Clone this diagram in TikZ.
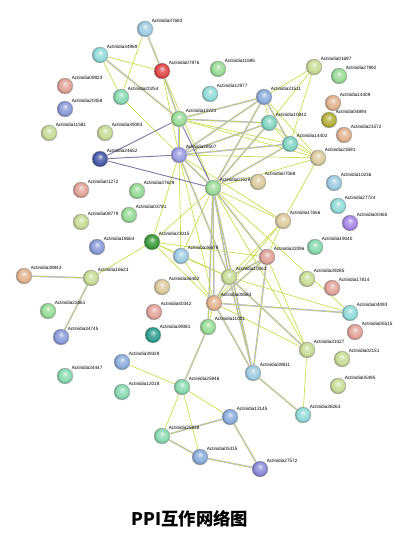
\documentclass[tikz,border=0pt]{standalone}
\usepackage{fontspec}
\setmainfont{Liberation Sans}
\newfontfamily\cjk{Noto Sans CJK SC}
\usepackage{tikz}
\usetikzlibrary{backgrounds}

% node colours
\definecolor{cLblue}{HTML}{A0CCE2}
\definecolor{cCyan}{HTML}{92DCD8}
\definecolor{cRed}{HTML}{E04848}
\definecolor{cSalmon}{HTML}{E2A49A}
\definecolor{cMint}{HTML}{8ADAB2}
\definecolor{cPeri}{HTML}{8C9CDA}
\definecolor{cGreen}{HTML}{9ADC98}
\definecolor{cYgreen}{HTML}{CADC98}
\definecolor{cBlue}{HTML}{8CAEDC}
\definecolor{cPeach}{HTML}{E2B490}
\definecolor{cTeal}{HTML}{82D6C2}
\definecolor{cOlive}{HTML}{B4B040}
\definecolor{cLav}{HTML}{9C9CE4}
\definecolor{cNavy}{HTML}{4A5AA8}
\definecolor{cTan}{HTML}{DCCCA0}
\definecolor{cPurple}{HTML}{A888E8}
\definecolor{cDgreen}{HTML}{3C9C3C}
\definecolor{cDteal}{HTML}{30A090}
\definecolor{cIndigo}{HTML}{8C8CD8}
% edge colours
\definecolor{eYel}{HTML}{C8DC46}
\definecolor{eLav}{HTML}{B4B4F0}
\definecolor{eDark}{HTML}{7C7CA8}

% glossy ball for the proteins
\colorlet{protcol}{white}
\pgfdeclareradialshading[protcol]{protball}{\pgfpoint{0bp}{9bp}}{%
  color(0bp)=(protcol!25!white); color(9bp)=(protcol!80!white);
  color(19bp)=(protcol); color(25bp)=(protcol!70!black); color(30bp)=(protcol!55!black)}

\tikzset{
  prot/.style={circle,minimum size=12pt,inner sep=0pt,draw=black!25,line width=0.3pt,shading=protball},
  lbl/.style={font=\fontsize{3.5}{4}\selectfont,inner sep=0pt,label distance=0.8pt},
  tm/.style={draw=eYel,line width=0.5pt},
  tmco/.style={draw=eLav,double=eYel,double distance=0.45pt,line width=0.35pt},
  dk/.style={draw=eDark,line width=0.7pt}
}

\begin{document}
\begin{tikzpicture}[x=0.75pt,y=-0.75pt]
  \useasboundingbox (0,0) rectangle (406,541);

  % Define proteins
  \foreach \n/\x/\y/\c in {
    37683/145/29/cLblue, 34969/100/55/cCyan, 07976/162/71/cRed,
    09923/65/86/cSalmon, 20254/121/97/cMint, 20458/65/109/cPeri,
    11695/218/69/cGreen, 01697/314/67/cYgreen, 27892/339/76/cGreen,
    12977/210/94/cCyan, 31511/264/97/cBlue, 14409/333/103/cPeach,
    10842/269/123/cTeal, 04894/329/120/cOlive, 19721/179/119/cGreen,
    11581/49/133/cYgreen, 39083/105/133/cYgreen, 28507/179/155/cLav,
    24652/100/159/cNavy, 01272/81/190/cSalmon, 37629/137/191/cGreen,
    03781/129/215/cGreen, 08779/81/222/cYgreen, 21572/344/135/cPeach,
    14402/290/144/cTeal, 23591/318/158/cTan, 01529/213/188/cGreen,
    07068/258/182/cTan, 10236/334/183/cLblue, 27724/338/206/cCyan,
    17656/283/221/cTan, 00465/350/223/cPurple, 19040/315/247/cMint,
    18654/97/247/cPeri, 23015/152/242/cDgreen, 36678/181/256/cLblue,
    38943/24/276/cPeach, 16623/91/278/cYgreen, 36462/162/287/cTan,
    22661/48/311/cGreen, 40342/154/312/cSalmon, 34745/61/337/cPeri,
    39081/153/335/cDteal, 32096/267/257/cSalmon, 10063/229/277/cYgreen,
    39285/307/279/cYgreen, 17814/332/288/cSalmon, 08583/214/303/cPeach,
    04093/350/313/cCyan, 11001/208/327/cGreen, 05515/355/332/cSalmon,
    31027/307/350/cYgreen, 02151/342/359/cYgreen, 39329/122/362/cBlue,
    34447/65/376/cMint, 12018/122/392/cMint, 25946/182/387/cMint,
    39811/253/373/cLblue, 05495/338/386/cYgreen, 13145/230/417/cBlue,
    38263/303/415/cCyan, 25838/162/436/cMint, 05315/200/457/cBlue,
    27572/260/469/cIndigo}
  {
    \colorlet{protcol}{\c}
    \node[prot,label={[lbl]north east:Actinidia\n}] (a\n) at (\x,\y) {};
  }

  % Draw interactions
  \begin{scope}[on background layer]
    \foreach \a/\b in {37683/20254, 34969/07976, 34969/20254, 07976/28507,
      07976/01529, 20254/01529, 19721/14402, 19721/23591, 28507/23591,
      28507/36678, 28507/23015, 28507/08583, 28507/17656, 01529/23591,
      01529/17656, 01529/36678, 01529/23015, 01529/31027, 01529/04093,
      31511/01697, 10842/01697, 14402/01697, 31511/10842, 31511/23591,
      10842/14402, 10842/23591, 14402/23591, 23591/17656, 17656/10063,
      17656/08583, 17656/32096, 23015/16623, 23015/36678, 23015/32096,
      23015/08583, 23015/10063, 36678/10063, 36678/08583, 32096/31027,
      10063/04093, 08583/31027, 08583/11001, 31027/38263, 25946/39329,
      25946/25838, 25946/05315, 25946/13145}
      \draw[tm] (a\a) -- (a\b);
    \foreach \a/\b in {37683/07976, 07976/19721, 34969/19721, 19721/28507,
      19721/31511, 19721/10842, 28507/01529, 28507/31511, 28507/10842,
      28507/14402, 28507/10063, 01529/31511, 01529/10842, 01529/14402,
      01529/32096, 01529/10063, 01529/08583, 01529/11001, 01529/39811,
      31511/14402, 32096/10063, 32096/08583, 32096/39811, 10063/08583,
      10063/31027, 10063/39811, 08583/04093, 08583/39811, 11001/25946,
      39811/38263, 16623/38943, 16623/34745, 25838/13145, 25838/05315,
      13145/27572, 05315/27572}
      \draw[tmco] (a\a) -- (a\b);
    \foreach \a/\b in {24652/19721, 24652/28507, 24652/01529, 19721/01529}
      \draw[dk] (a\a) -- (a\b);
  \end{scope}

  % Title
  \node[font=\cjk\bfseries\fontsize{13}{15}\selectfont] (title) at (190,519) {PPI互作网络图};
\end{tikzpicture}
\end{document}
